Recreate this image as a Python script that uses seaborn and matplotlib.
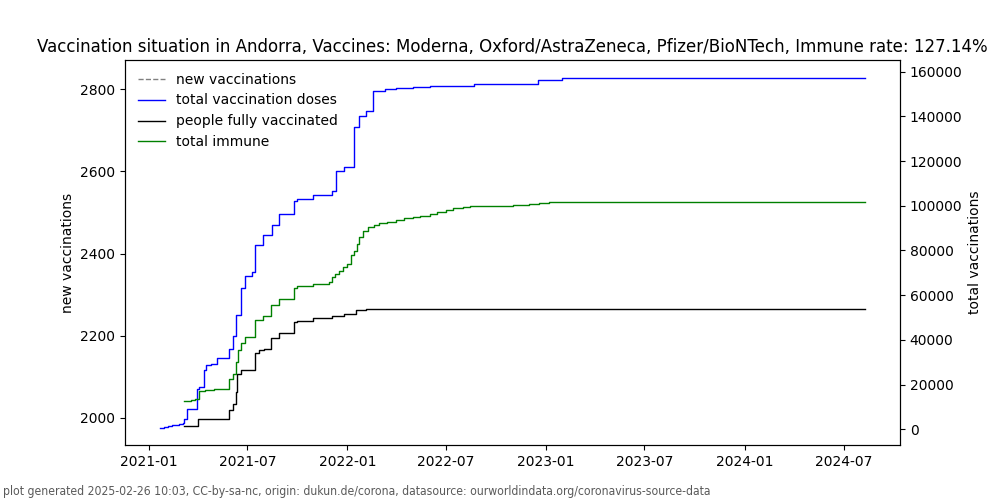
import pandas as pd
import matplotlib
matplotlib.use('Agg')
import matplotlib.pyplot as plt
import matplotlib.dates as mdates
import seaborn as sns

# DATA (step points)
doses_dates = ['2021-01-22', '2021-01-29', '2021-02-05', '2021-02-12', '2021-02-19', '2021-02-26',
               '2021-03-04', '2021-03-07', '2021-03-12',
               '2021-03-31', '2021-04-03', '2021-04-12', '2021-04-17', '2021-04-25', '2021-05-07',
               '2021-05-28', '2021-06-04', '2021-06-11', '2021-06-19', '2021-06-27', '2021-07-10',
               '2021-07-16', '2021-07-30', '2021-08-15', '2021-08-28', '2021-09-25', '2021-10-01',
               '2021-10-30', '2021-12-04', '2021-12-11', '2021-12-25', '2022-01-14', '2022-01-22',
               '2022-02-05', '2022-02-18', '2022-03-12', '2022-04-01', '2022-05-01', '2022-06-01',
               '2022-07-01', '2022-08-21', '2022-08-22', '2022-10-15', '2022-12-18', '2023-01-30',
               '2023-05-17', '2024-08-09']
doses_values = [760, 1000, 1300, 1700, 2100, 2500,
                2815, 4780, 9250,
                17900, 18900, 26700, 28600, 29400, 31900,
                36100, 41500, 50900, 63300, 68400, 70300,
                82500, 86700, 91600, 96100, 102100, 102900,
                104700, 106400, 115700, 117400, 135400, 140300,
                142200, 151500, 152100, 152500, 153000, 153500,
                153800, 154000, 154500, 154600, 156400, 157200,
                157400, 157400]

full_dates = ['2021-03-06', '2021-04-02', '2021-05-28', '2021-06-04', '2021-06-10', '2021-06-13',
              '2021-06-19', '2021-07-16', '2021-07-22', '2021-07-31', '2021-08-14', '2021-08-28',
              '2021-09-25', '2021-10-01', '2021-10-30', '2021-12-04', '2021-12-25', '2022-01-16',
              '2022-02-05', '2024-08-09']
full_values = [1470, 4780, 8490, 11500, 16700, 24900,
               26700, 34300, 35300, 36000, 40800, 43000,
               47900, 48400, 49600, 50500, 51400, 53500,
               53900, 54000]

immune_dates = ['2021-03-06', '2021-03-13', '2021-03-20', '2021-03-27', '2021-04-03', '2021-04-15',
                '2021-05-01', '2021-05-15', '2021-05-29',
                '2021-06-05', '2021-06-11', '2021-06-14', '2021-06-19', '2021-06-27', '2021-07-16',
                '2021-07-30', '2021-08-14', '2021-08-28', '2021-09-25', '2021-10-01', '2021-10-30',
                '2021-11-28', '2021-12-04', '2021-12-10', '2021-12-16', '2021-12-24', '2022-01-01',
                '2022-01-07', '2022-01-14', '2022-01-18', '2022-01-22', '2022-01-29', '2022-02-07',
                '2022-02-19', '2022-03-01', '2022-03-15', '2022-04-01', '2022-04-15', '2022-05-01',
                '2022-05-15', '2022-06-01', '2022-06-15', '2022-07-01', '2022-07-15', '2022-08-01',
                '2022-08-15', '2022-09-01', '2022-10-01', '2022-11-01', '2022-12-01', '2022-12-20',
                '2023-01-07', '2024-08-09']
immune_values = [12500, 12800, 13000, 13300, 17000, 17400,
                 17800, 18200, 22300,
                 24900, 30100, 35300, 38600, 41200, 48700,
                 50500, 55700, 58400, 63200, 64000, 65100,
                 66100, 68100, 69600, 70700, 72500, 74000,
                 77800, 79700, 82700, 85900, 88900, 90400,
                 91500, 92300, 92900, 93600, 94300, 95000,
                 95600, 96400, 97300, 98300, 99100, 99600,
                 99800, 99900, 100100, 100400, 100900, 101400,
                 101600, 101600]

title = ('Vaccination situation in Andorra, Vaccines: Moderna, Oxford/AstraZeneca, '
         'Pfizer/BioNTech, Immune rate: 127.14%')
footer = ('plot generated 2025-02-26 10:03, CC-by-sa-nc, origin: dukun.de/corona, '
          'datasource: ourworldindata.org/coronavirus-source-data')

df_doses = pd.DataFrame({'date': pd.to_datetime(doses_dates), 'value': doses_values})
df_full = pd.DataFrame({'date': pd.to_datetime(full_dates), 'value': full_values})
df_immune = pd.DataFrame({'date': pd.to_datetime(immune_dates), 'value': immune_values})

# PLOTTING
fig, ax = plt.subplots(figsize=(10, 5), dpi=100)
ax2 = ax.twinx()

# new vaccinations has no visible points in the reference, only a legend entry
ax.plot([], [], color='grey', linestyle='--', linewidth=1, label='new vaccinations')
ax.set_ylim(1934, 2871)
ax.set_ylabel('new vaccinations')

sns.lineplot(data=df_doses, x='date', y='value', ax=ax2, color='blue', linewidth=1,
             drawstyle='steps-post', estimator=None, label='total vaccination doses', legend=False)
sns.lineplot(data=df_full, x='date', y='value', ax=ax2, color='black', linewidth=1,
             drawstyle='steps-post', estimator=None, label='people fully vaccinated', legend=False)
sns.lineplot(data=df_immune, x='date', y='value', ax=ax2, color='green', linewidth=1,
             drawstyle='steps-post', estimator=None, label='total immune', legend=False)
ax2.set_ylabel('total vaccinations')
ax2.set_xlabel('')
ax.set_xlabel('')

ax.xaxis.set_major_locator(mdates.MonthLocator(bymonth=[1, 7]))
ax.xaxis.set_major_formatter(mdates.DateFormatter('%Y-%m'))

h1, l1 = ax.get_legend_handles_labels()
h2, l2 = ax2.get_legend_handles_labels()
ax2.legend(h1 + h2, l1 + l2, loc='upper left', frameon=False)

ax.set_title(title, fontsize=12)
fig.text(0.003, 0.01, footer, fontsize=8.7, color='#5a5a5a', fontstretch='condensed')

plt.savefig('out.png', dpi=100)
